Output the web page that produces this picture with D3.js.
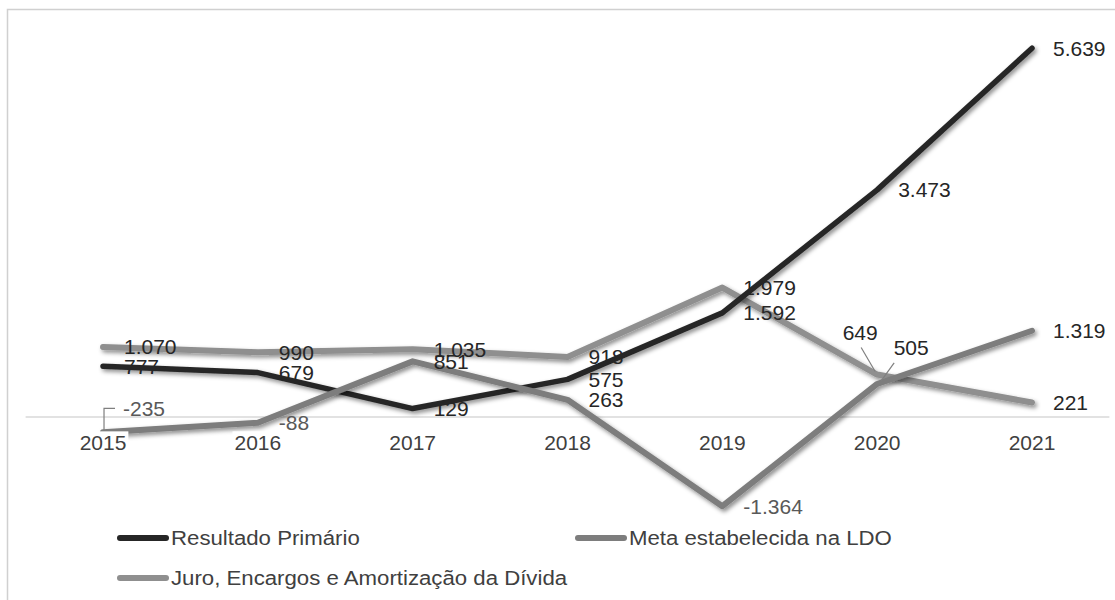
<!DOCTYPE html>
<html>
<head>
<meta charset="utf-8">
<script src="https://cdn.jsdelivr.net/npm/d3@7"></script>
<style>
  html, body { margin: 0; padding: 0; background: #fff; }
  svg { display: block; font-family: "Liberation Sans", Arial, sans-serif; }
</style>
</head>
<body>
<svg id="chart" width="1115" height="600"></svg>
<script>
// ---- data ----
const years = ["2015", "2016", "2017", "2018", "2019", "2020", "2021"];
const resultadoPrimario = [777, 679, 129, 575, 1592, 3473, 5639];
const metaLDO = [-235, -88, 851, 263, -1364, 505, 1319];
const juroEncargos = [1070, 990, 1035, 918, 1979, 649, 221];
const seriesNames = ["Resultado Primário", "Meta estabelecida na LDO", "Juro, Encargos e Amortização da Dívida"];

// ---- setup ----
const svg = d3.select("#chart");
const fmt = v => d3.format(",")(v).replace(/,/g, ".").replace(/\u2212/g, "-");

const defs = svg.append("defs");
const f = defs.append("filter").attr("id", "shadow")
  .attr("x", "-10%").attr("y", "-10%").attr("width", "120%").attr("height", "130%");
f.append("feDropShadow").attr("dx", 2).attr("dy", 2.5).attr("stdDeviation", 2)
  .attr("flood-color", "#000").attr("flood-opacity", 0.45);

// chart border
svg.append("rect").attr("x", 7.5).attr("y", 9.5).attr("width", 1120).attr("height", 600)
  .attr("fill", "none").attr("stroke", "#d0d0d0").attr("stroke-width", 1.5);

const x = d3.scalePoint().domain(years).range([25.6, 1109.4]).padding(0.5);
const y = d3.scaleLinear().domain([-2000, 6000]).range([547.8, 24.6]);

// horizontal axis line at zero
svg.append("line")
  .attr("x1", x.range()[0]).attr("x2", x.range()[1])
  .attr("y1", y(0)).attr("y2", y(0))
  .attr("stroke", "#d9d9d9").attr("stroke-width", 1.5);

const series = [
  { name: seriesNames[2], values: juroEncargos, color: "#8f8f8f", width: 6 },
  { name: seriesNames[0], values: resultadoPrimario, color: "#262626", width: 5.5 },
  { name: seriesNames[1], values: metaLDO, color: "#7d7d7d", width: 6 }
];

const line = d3.line().x((d, i) => x(years[i])).y(d => y(d));

svg.append("g").selectAll("path").data(series).join("path")
  .attr("d", s => line(s.values))
  .attr("fill", "none")
  .attr("stroke", s => s.color)
  .attr("stroke-width", s => s.width)
  .attr("stroke-linejoin", "round")
  .attr("stroke-linecap", "round")
  .attr("filter", "url(#shadow)");

// category axis labels with white backgrounds
const axisG = svg.append("g");
years.forEach(yr => {
  const g = axisG.append("g").attr("transform", `translate(${x(yr)},${y(0) + 26})`);
  const t = g.append("text").attr("text-anchor", "middle").attr("dy", "0.35em")
    .attr("font-size", 21).attr("fill", "#404040").text(yr);
  const bb = t.node().getBBox();
  g.insert("rect", "text").attr("x", bb.x - 2).attr("y", bb.y).attr("width", bb.width + 4)
    .attr("height", bb.height).attr("fill", "#fff");
});

// data labels
const labG = svg.append("g").attr("font-size", 21);
const allSeries = [resultadoPrimario, metaLDO, juroEncargos];
const special = {
  "1-0": { dx: 20, dy: -24, leader: true, bracket: true },
  "2-5": { dx: -17, dy: -42, leader: true, anchor: "middle" },
  "1-5": { dx: 34, dy: -36, leader: true, anchor: "middle" }
};
allSeries.forEach((vals, si) => {
  vals.forEach((v, i) => {
    const px = x(years[i]), py = y(v);
    const sp = special[si + "-" + i];
    let lx = px + 21, ly = py, anchor = "start";
    if (sp) { lx = px + sp.dx; ly = py + sp.dy; anchor = sp.anchor || "start"; }
    labG.append("text")
      .attr("x", lx).attr("y", ly).attr("dy", "0.35em")
      .attr("text-anchor", anchor)
      .attr("fill", v < 0 ? "#595959" : "#262626")
      .text(fmt(v));
    if (sp && sp.leader) {
      if (sp.bracket) {
        labG.append("polyline")
          .attr("points", `${px + 1},${py - 2} ${px + 1},${ly} ${px + 12},${ly}`)
          .attr("fill", "none").attr("stroke", "#7f7f7f").attr("stroke-width", 1.2);
      } else {
        const ex = sp.dx < 0 ? lx + 1 : lx - 17;
        const ey = ly + 15;
        labG.append("line")
          .attr("x1", ex).attr("y1", ey)
          .attr("x2", px + (sp.dx < 0 ? -2 : 4)).attr("y2", py - 3)
          .attr("stroke", "#7f7f7f").attr("stroke-width", 1.2);
      }
    }
  });
});

// legend
const legendItems = [
  { name: seriesNames[0], color: "#262626", x: 117, y: 538 },
  { name: seriesNames[1], color: "#7d7d7d", x: 575, y: 538 },
  { name: seriesNames[2], color: "#8f8f8f", x: 117, y: 578 }
];
const lg = svg.append("g");
legendItems.forEach(it => {
  lg.append("line").attr("x1", it.x + 3).attr("x2", it.x + 49)
    .attr("y1", it.y).attr("y2", it.y)
    .attr("stroke", it.color).attr("stroke-width", 6).attr("stroke-linecap", "round");
  const t = lg.append("text").attr("x", it.x + 54).attr("y", it.y).attr("dy", "0.35em")
    .attr("font-size", 20).attr("fill", "#404040").text(it.name);
  const w = t.node().getComputedTextLength();
  t.attr("textLength", w * 1.11).attr("lengthAdjust", "spacingAndGlyphs");
});
</script>
</body>
</html>
